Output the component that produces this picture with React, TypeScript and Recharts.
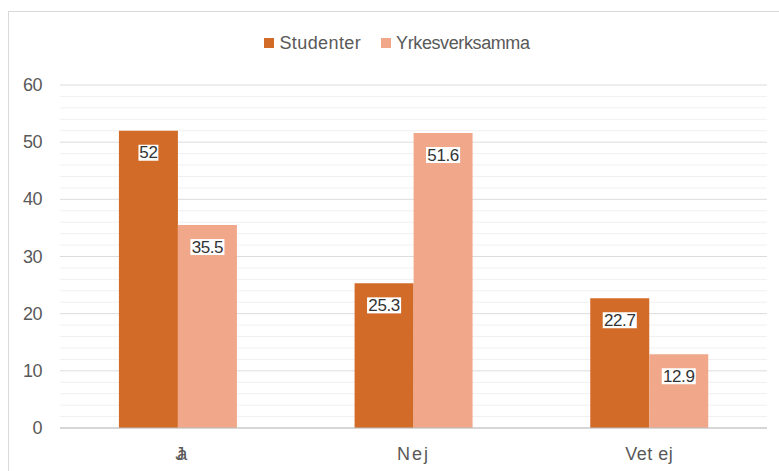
import { Bar, BarChart, CartesianGrid, LabelList, Legend, XAxis, YAxis } from "recharts";

const categories = ["Ja", "Nej", "Vet ej"];
const studenter = [52, 25.3, 22.7];
const yrkesverksamma = [35.5, 51.6, 12.9];
// every gridline (major every 10, minor every 2)
const gridTicks = [0, 2, 4, 6, 8, 10, 12, 14, 16, 18, 20, 22, 24, 26, 28, 30, 32, 34, 36, 38, 40, 42, 44, 46, 48, 50, 52, 54, 56, 58, 60];
const majorTicks = [0, 10, 20, 30, 40, 50, 60];

const DARK = "#d26b28";
const LIGHT = "#f1a789";
const FONT = "'Liberation Sans', Arial, Helvetica, sans-serif";
const TEXT = "#595959";

const data = categories.map((name, i) => ({
  name,
  studenter: studenter[i],
  yrkesverksamma: yrkesverksamma[i],
}));

const charW = (c: string) => (c === "." ? 4.7 : 9.45);

function ValueLabel(props: any) {
  const { x, y, width, value } = props;
  const s = String(value);
  const w = s.split("").reduce((a, c) => a + charW(c), 0) - 1;
  const cx = Number(x) + Number(width) / 2;
  const cy = Number(y) + 22;
  return (
    <g>
      <rect x={cx - w / 2 - 1} y={cy - 8} width={w + 2} height={16} fill="#ffffff" />
      <text
        x={cx}
        y={cy}
        textAnchor="middle"
        dominantBaseline="central"
        fontFamily={FONT}
        fontSize={17}
        letterSpacing={-0.4}
        fill="#333333"
      >
        {s}
      </text>
    </g>
  );
}

function CategoryTick(props: any) {
  const { x, y, payload } = props;
  const v = String(payload.value);
  const spacing = v === "Ja" ? -7 : v === "Nej" ? 2 : 0.5;
  return (
    <text
      x={x}
      y={y}
      dy={27}
      textAnchor="middle"
      fontFamily={FONT}
      fontSize={18}
      letterSpacing={spacing}
      fill={TEXT}
    >
      {v}
    </text>
  );
}

function ValueTick(props: any) {
  const { x, y, payload } = props;
  if (!majorTicks.includes(payload.value)) return <g />;
  return (
    <text x={x} y={y} dy={6} textAnchor="end" fontFamily={FONT} fontSize={18} letterSpacing={-0.5} fill={TEXT}>
      {payload.value}
    </text>
  );
}

function GridLine(props: any) {
  const { x1, x2, y1, y2, index } = props;
  const major = majorTicks.includes(gridTicks[index]);
  return <line x1={x1} x2={x2} y1={y1} y2={y2} stroke={major ? "#dcdcdc" : "#f0f0f0"} strokeWidth={1} />;
}

function LegendBox() {
  const items = [
    { label: "Studenter", color: DARK, spacing: 0.4 },
    { label: "Yrkesverksamma", color: LIGHT, spacing: -0.4 },
  ];
  return (
    <div
      style={{
        height: 60,
        paddingTop: 9,
        boxSizing: "border-box",
        display: "flex",
        alignItems: "flex-start",
        justifyContent: "center",
        paddingLeft: 18,
        fontFamily: FONT,
        fontSize: 18,
        color: TEXT,
        lineHeight: "18px",
      }}
    >
      {items.map((it) => (
        <div key={it.label} style={{ display: "flex", alignItems: "center", height: 18, margin: "0 10px" }}>
          <span style={{ width: 10, height: 10, background: it.color, marginRight: 5, display: "inline-block" }} />
          <span style={{ letterSpacing: it.spacing }}>{it.label}</span>
        </div>
      ))}
    </div>
  );
}

export default function App() {
  return (
    <div
      style={{
        position: "fixed",
        left: 8,
        top: 11,
        width: 771,
        height: 460,
        borderTop: "1px solid #d9d9d9",
        borderLeft: "1px solid #d9d9d9",
        background: "#ffffff",
      }}
    >
      <BarChart
        width={771}
        height={460}
        data={data}
        margin={{ top: 13, right: 13, bottom: 0, left: 0 }}
        barCategoryGap="25%"
        barGap={0}
      >
        <CartesianGrid vertical={false} horizontal={(p: any) => <GridLine key={p.key} {...p} />} />
        <Legend verticalAlign="top" content={() => <LegendBox />} />
        <XAxis
          dataKey="name"
          height={44}
          tickLine={false}
          axisLine={{ stroke: "#bfbfbf" }}
          tick={<CategoryTick />}
          tickSize={0}
          tickMargin={5}
        />
        <YAxis
          width={51}
          domain={[0, 60]}
          ticks={gridTicks}
          interval={0}
          axisLine={false}
          tickLine={false}
          tickSize={0}
          tickMargin={18}
          tick={<ValueTick />}
        />
        <Bar dataKey="studenter" name="Studenter" fill={DARK} isAnimationActive={false}>
          <LabelList dataKey="studenter" content={<ValueLabel />} />
        </Bar>
        <Bar dataKey="yrkesverksamma" name="Yrkesverksamma" fill={LIGHT} isAnimationActive={false}>
          <LabelList dataKey="yrkesverksamma" content={<ValueLabel />} />
        </Bar>
      </BarChart>
    </div>
  );
}
